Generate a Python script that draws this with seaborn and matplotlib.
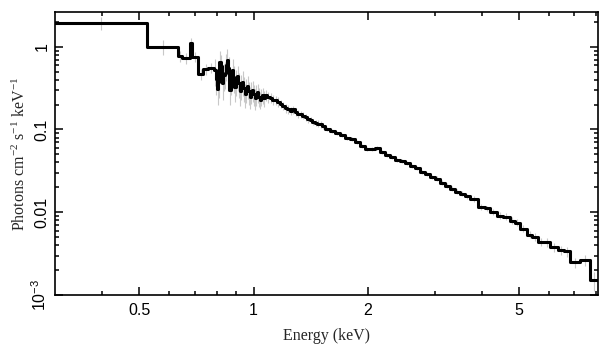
import numpy as np
import pandas as pd
import seaborn as sns
import matplotlib
matplotlib.use("Agg")
import matplotlib.pyplot as plt
from matplotlib.ticker import FixedLocator, FixedFormatter, NullFormatter, LogLocator

# unfolded spectrum (bin edges in keV, flux in photons/cm2/s/keV)
edges = [0.300, 0.524, 0.634, 0.647, 0.679, 0.690, 0.713, 0.738, 0.758,
         0.789, 0.795, 0.801, 0.807, 0.813, 0.819, 0.826, 0.832, 0.839, 0.845,
         0.851, 0.857, 0.864, 0.871, 0.878, 0.884, 0.891, 0.898, 0.905, 0.912,
         0.919, 0.926, 0.933, 0.940, 0.947, 0.954, 0.961, 0.968, 0.976, 0.983,
         0.991, 0.998, 1.006, 1.013, 1.021, 1.029, 1.037, 1.045, 1.053, 1.061,
         1.069, 1.085, 1.102, 1.119, 1.136, 1.153, 1.171, 1.189, 1.207, 1.226,
         1.245, 1.264, 1.283, 1.302, 1.322, 1.342, 1.363, 1.384, 1.405, 1.426,
         1.448, 1.470, 1.493, 1.516,
         1.539, 1.586, 1.636, 1.686, 1.739, 1.792, 1.847, 1.904, 1.963,
         2.024, 2.086, 2.150, 2.216, 2.285, 2.355, 2.428, 2.503, 2.580, 2.660,
         2.742, 2.827, 2.914, 3.004, 3.097, 3.192, 3.291, 3.391, 3.496, 3.604,
         3.715, 3.900, 4.070, 4.195, 4.377, 4.539, 4.736, 4.883, 5.033, 5.252,
         5.415, 5.616, 5.824, 6.040, 6.340, 6.576, 6.821, 7.246, 7.700, 8.08]

flux = [1.95, 1.00, 0.77, 0.73, 1.12, 0.76, 0.465, 0.54, 0.56,
        0.52, 0.41, 0.31, 0.38, 0.66, 0.58, 0.36, 0.45, 0.48, 0.60,
        0.70, 0.56, 0.30, 0.40, 0.52, 0.43, 0.33, 0.39, 0.44, 0.36,
        0.29, 0.34, 0.38, 0.32, 0.27, 0.31, 0.34, 0.29, 0.25, 0.29,
        0.30, 0.27, 0.24, 0.27, 0.28, 0.25, 0.23, 0.25, 0.26, 0.24,
        0.262, 0.247, 0.240, 0.228, 0.226, 0.217, 0.204, 0.193, 0.182, 0.176,
        0.169, 0.175, 0.163, 0.155, 0.152, 0.147, 0.141, 0.134, 0.130, 0.124,
        0.121, 0.118, 0.116, 0.110,
        0.102, 0.0965, 0.0912, 0.0863, 0.0794, 0.0773, 0.0711, 0.0636,
        0.0585, 0.0585, 0.0602, 0.0539, 0.0496, 0.0469, 0.0432, 0.0420, 0.0397, 0.0365,
        0.0346, 0.0309, 0.0293, 0.0269, 0.0255, 0.0228, 0.0210, 0.0193, 0.0178, 0.0168,
        0.0155, 0.0146, 0.0117, 0.0111, 0.0102, 0.00912, 0.00887, 0.00794, 0.00750, 0.00635,
        0.00538, 0.00509, 0.00443, 0.00431, 0.00376, 0.00346, 0.00336, 0.00248, 0.00262, 0.00150]

rel_err = [0.19, 0.20, 0.15, 0.15, 0.15, 0.15, 0.15, 0.15, 0.15,
           0.36, 0.36, 0.36, 0.36, 0.36, 0.36, 0.36, 0.36, 0.36, 0.36,
           0.35, 0.35, 0.35, 0.35, 0.35, 0.35, 0.34, 0.34, 0.34, 0.34,
           0.33, 0.33, 0.33, 0.33, 0.32, 0.32, 0.31, 0.31, 0.30, 0.30,
           0.29, 0.29, 0.28, 0.28, 0.26, 0.26, 0.24, 0.24, 0.22, 0.22,
           0.15, 0.15, 0.14, 0.14, 0.13, 0.13, 0.12, 0.12, 0.12, 0.12,
           0.11, 0.11, 0.11, 0.11, 0.10, 0.10, 0.10, 0.10, 0.09, 0.09,
           0.09, 0.09, 0.09, 0.09,
           0.06, 0.06, 0.06, 0.06, 0.06, 0.06, 0.06, 0.06,
           0.06, 0.06, 0.06, 0.06, 0.06, 0.06, 0.06, 0.06, 0.06, 0.06,
           0.06, 0.06, 0.06, 0.06, 0.07, 0.07, 0.07, 0.07, 0.07, 0.07,
           0.07, 0.08, 0.08, 0.08, 0.08, 0.09, 0.09, 0.09, 0.10, 0.10,
           0.10, 0.11, 0.11, 0.12, 0.12, 0.13, 0.14, 0.14, 0.15, 0.25]

lo = np.array(edges[:-1])
hi = np.array(edges[1:])
df = pd.DataFrame({"lo": lo, "hi": hi, "flux": flux, "err": np.array(rel_err) * np.array(flux)})
df["mid"] = np.sqrt(df["lo"] * df["hi"])

# step outline: one point per bin start, plus the closing edge
steps = pd.DataFrame({"E": list(df["lo"]) + [edges[-1]],
                      "F": list(df["flux"]) + [flux[-1]]})

sns.set_theme(style="ticks")
plt.rcParams["font.family"] = ["Liberation Sans", "DejaVu Sans"]

fig = plt.figure(figsize=(6.09, 3.57), dpi=100)
ax = fig.add_axes([0.0903, 0.1737, 0.8917, 0.7923])

ax.errorbar(df["mid"], df["flux"], yerr=df["err"], fmt="none",
            ecolor="#c8c8c8", elinewidth=0.8, zorder=1)
sns.lineplot(data=steps, x="E", y="F", drawstyle="steps-post", color="black",
             linewidth=2.2, ax=ax, zorder=2, sort=False, estimator=None)

ax.set_xscale("log")
ax.set_yscale("log")
ax.set_xlim(0.3, 8.08)
ax.set_ylim(1e-3, 2.62)

ax.xaxis.set_major_locator(FixedLocator([0.5, 1, 2, 5]))
ax.xaxis.set_major_formatter(FixedFormatter(["0.5", "1", "2", "5"]))
ax.xaxis.set_minor_locator(FixedLocator([0.4, 0.6, 0.7, 0.8, 0.9, 3, 4, 6, 7, 8]))
ax.xaxis.set_minor_formatter(NullFormatter())

ax.yaxis.set_major_locator(FixedLocator([1e-3, 1e-2, 1e-1, 1]))
ax.yaxis.set_major_formatter(FixedFormatter([r"$\mathregular{10^{-3}}$", "0.01", "0.1", "1"]))
ax.yaxis.set_minor_locator(LogLocator(base=10, subs=np.arange(2, 10), numticks=20))
ax.yaxis.set_minor_formatter(NullFormatter())

ax.tick_params(which="both", direction="in", top=True, right=True,
               width=1.1, colors="black", labelsize=11.5)
ax.tick_params(which="major", length=6)
ax.tick_params(which="minor", length=3)
ax.tick_params(axis="x", pad=6)
ax.tick_params(axis="y", pad=4)
for lab in ax.get_yticklabels():
    lab.set_rotation(90)
    lab.set_va("center")

for sp in ax.spines.values():
    sp.set_linewidth(1.2)
    sp.set_color("black")

ax.set_xlabel("Energy (keV)", family="Liberation Serif", fontsize=11.5, labelpad=7)
ax.set_ylabel(r"Photons cm$\mathregular{^{-2}}$ s$\mathregular{^{-1}}$ keV$\mathregular{^{-1}}$",
              family="Liberation Serif", fontsize=11.5, labelpad=1)

fig.savefig("out.png", dpi=100)
